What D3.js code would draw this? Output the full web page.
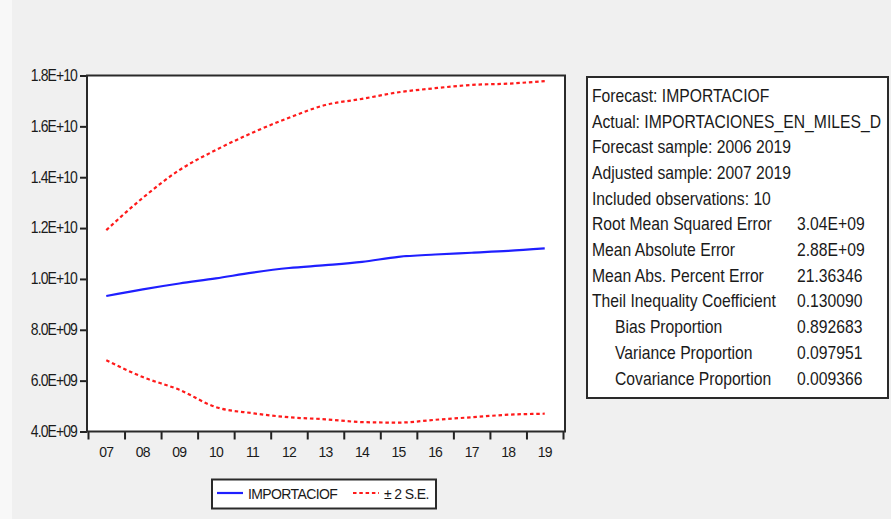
<!DOCTYPE html>
<html>
<head>
<meta charset="utf-8">
<script src="https://cdn.jsdelivr.net/npm/d3@7"></script>
<style>
  html, body { margin: 0; padding: 0; background: #f0f0f0; }
  svg { display: block; }
  text { font-family: "Liberation Sans", Arial, sans-serif; fill: #1a1a1a; }
</style>
</head>
<body>
<svg id="chart" width="891" height="519"></svg>
<script>
// Forecast years (two-digit labels) and forecast series, in billions
const years = ["07", "08", "09", "10", "11", "12", "13", "14", "15", "16", "17", "18", "19"];
const forecast = [9.33, 9.59, 9.82, 10.02, 10.25, 10.43, 10.54, 10.67, 10.87, 10.96, 11.03, 11.10, 11.20];
const upperBand = [11.92, 13.19, 14.28, 15.07, 15.75, 16.34, 16.84, 17.08, 17.34, 17.50, 17.63, 17.68, 17.78];
const lowerBand = [6.80, 6.14, 5.64, 4.96, 4.72, 4.56, 4.48, 4.37, 4.35, 4.46, 4.56, 4.66, 4.70];
const yTicks = [4e9, 6e9, 8e9, 1e10, 1.2e10, 1.4e10, 1.6e10, 1.8e10];

// Forecast evaluation summary
const statLabels = [
  "Forecast: IMPORTACIOF",
  "Actual: IMPORTACIONES_EN_MILES_D",
  "Forecast sample: 2006 2019",
  "Adjusted sample: 2007 2019",
  "Included observations: 10",
  "Root Mean Squared Error",
  "Mean Absolute Error",
  "Mean Abs. Percent Error",
  "Theil Inequality Coefficient",
  "Bias Proportion",
  "Variance Proportion",
  "Covariance Proportion"
];
const statValues = ["", "", "", "", "", "3.04E+09", "2.88E+09", "21.36346", "0.130090", "0.892683", "0.097951", "0.009366"];
const statIndented = [false, false, false, false, false, false, false, false, false, true, true, true];

const legendLabels = ["IMPORTACIOF", "\u00b1 2 S.E."];

const svg = d3.select("#chart");

// faint lighter strip at the left edge of the canvas
svg.append("rect").attr("x", 0).attr("y", 0).attr("width", 12).attr("height", 519).attr("fill", "#f8f8f8");

const plot = { left: 87, right: 565, top: 75.5, bottom: 431.5 };

const x = d3.scaleBand().domain(years).range([88, 563]);
const xEdge = d3.scaleLinear().domain([0, years.length]).range([88, 563]);
const y = d3.scaleLinear().domain([4e9, 1.8e10]).range([plot.bottom, plot.top]);

// plot area
svg.append("rect")
  .attr("x", plot.left).attr("y", plot.top)
  .attr("width", plot.right - plot.left).attr("height", plot.bottom - plot.top)
  .attr("fill", "#ffffff").attr("stroke", "none");

// E-notation tick format, e.g. 1.8E+10, 8.0E+09
function eFormat(v) {
  const s = v.toExponential(1).toUpperCase();
  const [m, e] = s.split("E");
  const sign = e[0] === "-" ? "-" : "+";
  const digits = e.replace(/[+-]/, "").padStart(2, "0");
  return m + "E" + sign + digits;
}

// y axis
const yAxis = svg.append("g")
  .attr("transform", `translate(${plot.left},0)`)
  .call(d3.axisLeft(y).tickValues(yTicks).tickFormat(eFormat).tickSize(7).tickPadding(3));
yAxis.select(".domain").remove();
yAxis.selectAll(".tick line").attr("stroke", "#222").attr("stroke-width", 2);
yAxis.selectAll(".tick text")
  .style("font-size", "14px").style("letter-spacing", "-0.9px")
  .attr("dy", "0.3em")
  .attr("transform", "scale(1,1.15)")
  .attr("fill", "#222");

// x axis: tick marks on year boundaries
const xTicks = svg.append("g")
  .attr("transform", `translate(0,${plot.bottom})`)
  .call(d3.axisBottom(xEdge).tickValues(d3.range(years.length + 1)).tickFormat("").tickSize(8));
xTicks.select(".domain").remove();
xTicks.selectAll(".tick line").attr("stroke", "#222").attr("stroke-width", 2);

// x axis: year labels centred in each band
const xLabels = svg.append("g")
  .attr("transform", `translate(0,${plot.bottom})`)
  .call(d3.axisBottom(x).tickSize(0).tickPadding(13));
xLabels.select(".domain").remove();
xLabels.selectAll(".tick text")
  .style("font-size", "14px").style("letter-spacing", "-0.8px")
  .attr("transform", "scale(1,1.1)")
  .attr("fill", "#222");

// frame around the plot area
svg.append("rect")
  .attr("x", plot.left).attr("y", plot.top)
  .attr("width", plot.right - plot.left).attr("height", plot.bottom - plot.top)
  .attr("fill", "none").attr("stroke", "#2a2a2a").attr("stroke-width", 2);

const cx = (d, i) => x(years[i]) + x.bandwidth() / 2;
const line = d3.line().x(cx).y(d => y(d * 1e9)).curve(d3.curveMonotoneX);

// confidence bands
[upperBand, lowerBand].forEach(band => {
  svg.append("path")
    .datum(band)
    .attr("d", line)
    .attr("fill", "none")
    .attr("stroke", "#ff1a1a")
    .attr("stroke-width", 2.2)
    .attr("stroke-dasharray", "3.5,2.8");
});

// forecast line
svg.append("path")
  .datum(forecast)
  .attr("d", line)
  .attr("fill", "none")
  .attr("stroke", "#1f1fff")
  .attr("stroke-width", 2.2);

// statistics box
const box = { x: 587, y: 77, w: 301, h: 321 };
svg.append("rect")
  .attr("x", box.x).attr("y", box.y).attr("width", box.w).attr("height", box.h)
  .attr("fill", "#ffffff").attr("stroke", "#2a2a2a").attr("stroke-width", 2);

const rowH = 25.7;
const stats = svg.append("g").style("font-size", "15.7px");
statLabels.forEach((lab, i) => {
  const by = 101.8 + i * rowH;
  stats.append("text")
    .attr("transform", `translate(${statIndented[i] ? 615 : 592},${by}) scale(1,1.14)`)
    .text(lab);
  if (statValues[i]) {
    stats.append("text")
      .attr("transform", `translate(797,${by}) scale(1,1.14)`)
      .text(statValues[i]);
  }
});

// legend
const lg = svg.append("g");
lg.append("rect")
  .attr("x", 212).attr("y", 479.5).attr("width", 224).attr("height", 29)
  .attr("fill", "#ffffff").attr("stroke", "#2a2a2a").attr("stroke-width", 2);
lg.append("line")
  .attr("x1", 217).attr("x2", 243).attr("y1", 493).attr("y2", 493)
  .attr("stroke", "#1f1fff").attr("stroke-width", 2.2);
lg.append("text")
  .attr("transform", "translate(248,498.5) scale(1,1.08)")
  .style("font-size", "14px").style("letter-spacing", "-0.6px")
  .text(legendLabels[0]);
lg.append("line")
  .attr("x1", 353).attr("x2", 379).attr("y1", 493).attr("y2", 493)
  .attr("stroke", "#ff1a1a").attr("stroke-width", 2.2).attr("stroke-dasharray", "3.5,2.8");
lg.append("text")
  .attr("transform", "translate(384,498.5) scale(1,1.08)")
  .style("font-size", "14px").style("letter-spacing", "-0.6px")
  .text(legendLabels[1]);
</script>
</body>
</html>
